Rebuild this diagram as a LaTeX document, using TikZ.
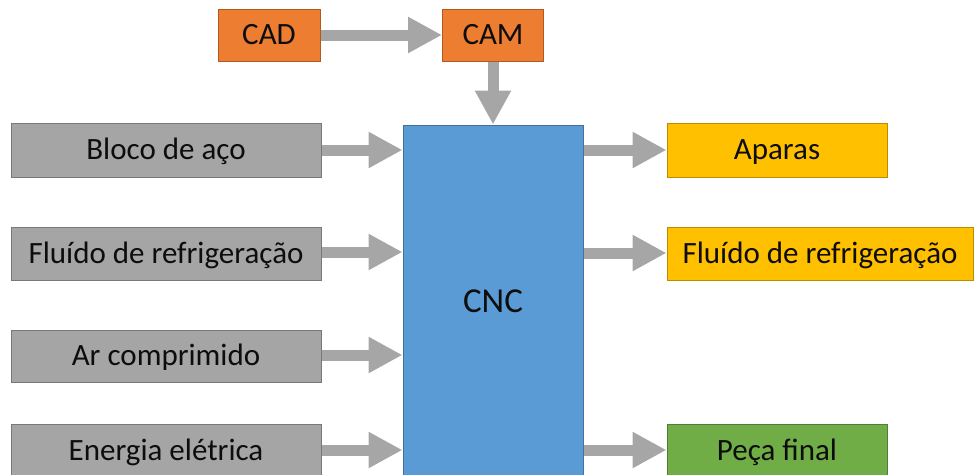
\documentclass[tikz,border=0pt]{standalone}
\usepackage{fontspec}
\setmainfont{Carlito}
\usetikzlibrary{arrows.meta}

\definecolor{orangefill}{HTML}{ED7D31}
\definecolor{orangeline}{HTML}{AE5A21}
\definecolor{greyfill}{HTML}{A5A5A5}
\definecolor{greyline}{HTML}{787878}
\definecolor{bluefill}{HTML}{5B9BD5}
\definecolor{blueline}{HTML}{41719C}
\definecolor{goldfill}{HTML}{FFC000}
\definecolor{goldline}{HTML}{BC8C00}
\definecolor{greenfill}{HTML}{70AD47}
\definecolor{greenline}{HTML}{507E32}
\definecolor{arrowgrey}{HTML}{A6A6A6}
\definecolor{textcol}{HTML}{0D0D0D}

\tikzset{
  block/.style={rectangle, inner sep=0pt, line width=1pt, text=textcol,
    font=\fontsize{31}{37}\selectfont, text height=19pt, text depth=0pt},
  cadbox/.style={block, fill=orangefill, draw=orangeline},
  inbox/.style={block, fill=greyfill, draw=greyline},
  machine/.style={block, fill=bluefill, draw=blueline,
    font=\fontsize{35}{42}\selectfont, text height=22pt},
  outbox/.style={block, fill=goldfill, draw=goldline},
  partbox/.style={block, fill=greenfill, draw=greenline},
  flow/.style={draw=arrowgrey, line width=11pt,
    -{Triangle[length=34pt,width=34pt,fill=arrowgrey]}}
}

\begin{document}
\begin{tikzpicture}[x=1pt,y=-1pt]
  \useasboundingbox (0,0) rectangle (974,474);

  % design chain
  \node[cadbox, minimum width=102pt, minimum height=52pt] (cad) at (269,35) {CAD};
  \node[cadbox, minimum width=101pt, minimum height=52pt] (cam) at (493,35) {CAM};

  % machine
  \node[machine, minimum width=180pt, minimum height=352pt] (cnc) at (493,301) {CNC};

  % inputs
  \node[inbox, minimum width=310pt, minimum height=54pt] (bloco) at (166,150) {Bloco de aço};
  \node[inbox, minimum width=310pt, minimum height=53pt] (fluidoin) at (166,253.5) {Fluído de refrigeração};
  \node[inbox, minimum width=310pt, minimum height=52pt] (ar) at (166,356) {Ar comprimido};
  \node[inbox, minimum width=310pt, minimum height=54pt] (energia) at (166,451) {Energia elétrica};

  % outputs
  \node[outbox, minimum width=220pt, minimum height=54pt] (aparas) at (777,150) {Aparas};
  \node[outbox, minimum width=306pt, minimum height=53pt] (fluidoout) at (820,253.5) {Fluído de refrigeração};
  \node[partbox, minimum width=220pt, minimum height=54pt] (peca) at (777,451) {Peça final};

  % flows
  \draw[flow] (cad.east) -- (cam.west);
  \draw[flow] (cam.south) -- (cam.south |- cnc.north);
  \draw[flow] (bloco.east) -- (bloco.east -| cnc.west);
  \draw[flow] (fluidoin.east |- 0,252) -- (cnc.west |- 0,252);
  \draw[flow] (ar.east |- 0,355) -- (cnc.west |- 0,355);
  \draw[flow] (energia.east |- 0,450) -- (cnc.west |- 0,450);
  \draw[flow] (cnc.east |- aparas) -- (aparas.west);
  \draw[flow] (cnc.east |- 0,253) -- (fluidoout.west |- 0,253);
  \draw[flow] (cnc.east |- 0,450) -- (peca.west |- 0,450);
\end{tikzpicture}
\end{document}
